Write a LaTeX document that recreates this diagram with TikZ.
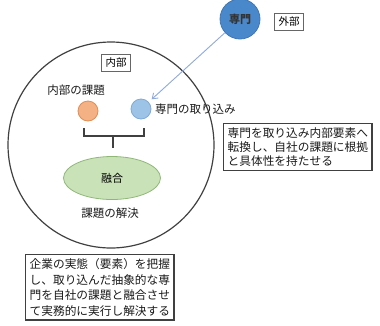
\documentclass[tikz,border=0pt]{standalone}
\usepackage{fontspec}
\setmainfont{Noto Sans CJK JP}
\usetikzlibrary{arrows.meta,shapes.geometric}
\definecolor{bigblue}{HTML}{4A88CC}
\definecolor{bigblueb}{HTML}{3F77B8}
\definecolor{lblue}{HTML}{9DC3E6}
\definecolor{lblueb}{HTML}{7FAAD8}
\definecolor{orng}{HTML}{F4B183}
\definecolor{orngb}{HTML}{E08E55}
\definecolor{grn}{HTML}{C9E2B8}
\definecolor{grnb}{HTML}{8FB878}
\definecolor{arrowblue}{HTML}{8FAADC}
\definecolor{lineg}{HTML}{404040}
\tikzset{
  lbl/.style={font=\fontsize{11.5}{13}\selectfont, text=black!90, inner sep=0pt},
  tagbox/.style={draw=lineg!80, line width=1.1pt, font=\fontsize{10.5}{12}\selectfont, inner xsep=4pt, inner ysep=2pt, minimum height=17pt},
  notebox/.style={draw=lineg, line width=1.3pt, align=left, inner xsep=4pt, inner ysep=4pt, text=black!90},
  dot/.style={circle, minimum size=20pt, inner sep=0pt, line width=0.8pt},
}
\begin{document}
\begin{tikzpicture}[x=1pt,y=-1pt]
\useasboundingbox (0,0) rectangle (380,325);
% big inner circle
\node[circle, draw=lineg, line width=1.2pt, minimum size=206pt, inner sep=0pt] (inner) at (111,145) {};
% external expert
\node[circle, fill=bigblue, draw=bigblueb, line width=0.8pt, minimum size=40pt, inner sep=0pt, font=\fontsize{11}{12}\selectfont\bfseries, text=black!80] (sen) at (240,19) {専門};
\node[tagbox] (gai) at (289,22) {外部};
\node[tagbox] (nai) at (116,63) {内部};
\node[lbl] (naikadai) at (76,90) {内部の課題};
\node[dot, fill=orng, draw=orngb] (o) at (88,111) {};
\node[dot, fill=lblue, draw=lblueb] (b) at (141,109) {};
\node[lbl, anchor=west] (torikomi) at (155,109) {専門の取り込み};
\draw[arrowblue, line width=0.9pt, -{Straight Barb[length=5pt,width=7pt]}, shorten >=4pt] (sen) -- (b);
% bracket
\coordinate (bl) at (84,128);
\coordinate (br) at (144,128);
\coordinate (stemtop) at (113,136);
\coordinate (stembot) at (113,148);
\draw[lineg, line width=1.1pt] (bl) |- (stemtop) -| (br);
\draw[lineg, line width=1.1pt] (stemtop) -- (stembot);
\node[ellipse, fill=grn, draw=grnb, line width=0.8pt, minimum width=97pt, minimum height=43pt, inner sep=0pt, font=\fontsize{11}{12}\selectfont] (yugo) at (112,178) {融合};
\node[lbl] (kaiketsu) at (110,213) {課題の解決};
% note boxes
\node[notebox, font=\fontsize{11.7}{14}\selectfont, anchor=north west] (rnote) at (223,123) {専門を取り込み内部要素へ\\転換し、自社の課題に根拠\\と具体性を持たせる};
\node[notebox, font=\fontsize{11.7}{15.5}\selectfont, anchor=north west] (bnote) at (25,254) {企業の実態（要素）を把握\\し、取り込んだ抽象的な専\\門を自社の課題と融合させ\\て実務的に実行し解決する};
\end{tikzpicture}
\end{document}
